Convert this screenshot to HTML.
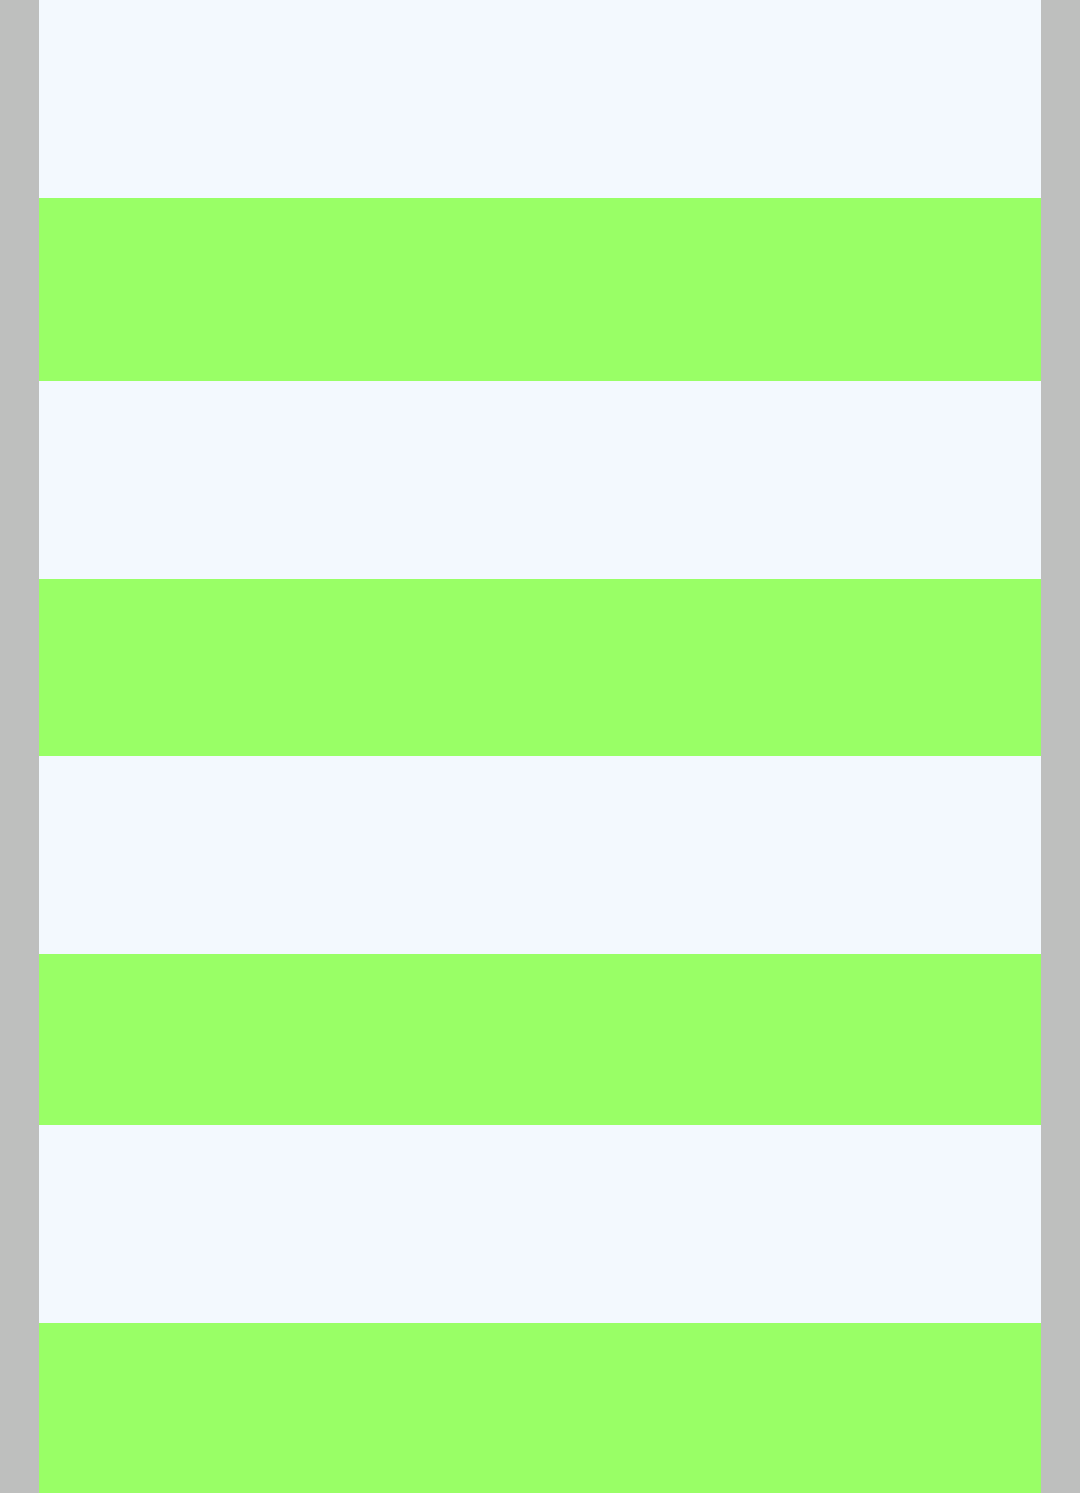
<!DOCTYPE html>
<html>
<head>
<meta charset="utf-8">
<style>
  html, body { margin: 0; padding: 0; }
  body { width: 1080px; height: 1493px; background: #bebfbe; position: relative; overflow: hidden; font-family: "Liberation Sans", sans-serif; }
  #column { position: absolute; left: 39px; top: 0; width: 1002px; height: 1493px; }
  .band { position: absolute; left: 0; width: 1002px; }
  .light { background: #f3f9fe; }
  .green { background: #99ff66; }
</style>
</head>
<body>
<div id="column">
  <div class="band light" style="top:0;height:198px"></div>
  <div class="band green" style="top:198px;height:183px"></div>
  <div class="band light" style="top:381px;height:198px"></div>
  <div class="band green" style="top:579px;height:177px"></div>
  <div class="band light" style="top:756px;height:198px"></div>
  <div class="band green" style="top:954px;height:171px"></div>
  <div class="band light" style="top:1125px;height:198px"></div>
  <div class="band green" style="top:1323px;height:170px"></div>
</div>
</body>
</html>
